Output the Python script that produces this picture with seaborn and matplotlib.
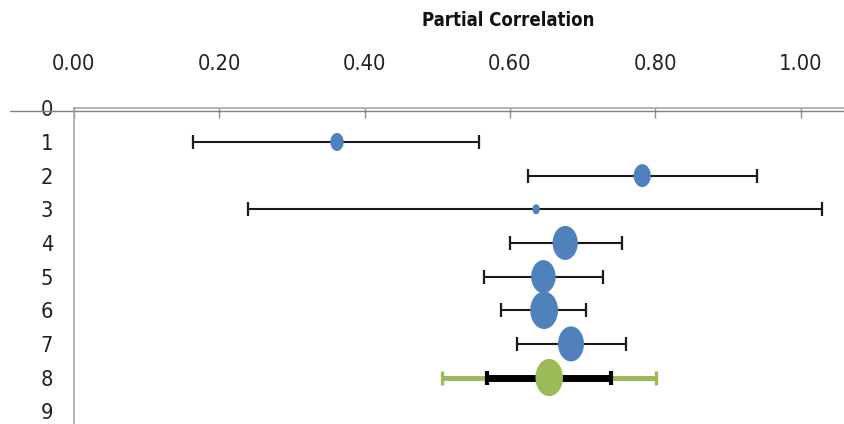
import numpy as np
import pandas as pd
import matplotlib
matplotlib.use("Agg")
import matplotlib.pyplot as plt
from matplotlib import font_manager
from matplotlib.path import Path
import seaborn as sns

# forest plot data
rows = [1, 2, 3, 4, 5, 6, 7, 8]
r = [0.362, 0.782, 0.636, 0.676, 0.646, 0.647, 0.684, 0.654]
ci_lo = [0.164, 0.625, 0.240, 0.600, 0.564, 0.588, 0.609, 0.569]
ci_hi = [0.558, 0.940, 1.030, 0.754, 0.728, 0.705, 0.759, 0.739]
weight = [18, 23, 10, 34, 33, 37.5, 35, 37.2]
kind = ["study"] * 7 + ["pooled"]
# prediction interval for the pooled estimate
pi_lo = [0.507]
pi_hi = [0.801]

xticks = [0.0, 0.2, 0.4, 0.6, 0.8, 1.0]
yticks = list(range(10))

df = pd.DataFrame({"row": rows, "r": r, "lo": ci_lo, "hi": ci_hi,
                   "weight": weight, "kind": kind})

sns.set_theme(style="white")

# look for a narrow font (reference uses a squeezed Calibri)
fams = set(f.name for f in font_manager.fontManager.ttflist)
cond = [f for f in font_manager.fontManager.ttflist
        if str(f.stretch) in ("condensed", "semi-condensed", "extra-condensed")]
if "Liberation Sans Narrow" in fams:
    plt.rcParams["font.family"] = ["Liberation Sans Narrow", "DejaVu Sans"]
    scale = 1.0
elif cond:
    plt.rcParams["font.family"] = [cond[0].name, "DejaVu Sans"]
    plt.rcParams["font.stretch"] = "condensed"
    scale = 0.92
else:
    plt.rcParams["font.family"] = ["DejaVu Sans"]
    scale = 0.78

fig = plt.figure(figsize=(8.45, 4.24), dpi=100)
ax = fig.add_axes([73.9 / 845, 0, 1 - 73.9 / 845, 1 - 108.3 / 424])

# ellipse marker (the original chart was squeezed sideways)
t = np.linspace(0, 2 * np.pi, 60)
ellipse = Path(np.column_stack([0.74 * np.cos(t), np.sin(t)]), closed=True)

study = df[df.kind == "study"]
pooled = df[df.kind == "pooled"]

# error bars for studies
ax.errorbar(study.r, study.row,
            xerr=[study.r - study.lo, study.hi - study.r],
            fmt="none", ecolor="#1a1a1a", elinewidth=1.5, capsize=4.7,
            capthick=1.6, zorder=2)
# prediction interval (green) and confidence interval (black) for pooled
ax.errorbar(pooled.r, pooled.row,
            xerr=[np.array(pooled.r) - pi_lo, np.array(pi_hi) - pooled.r],
            fmt="none", ecolor="#9BBB59", elinewidth=3.6, capsize=4.7,
            capthick=2.4, zorder=2)
ax.errorbar(pooled.r, pooled.row,
            xerr=[pooled.r - pooled.lo, pooled.hi - pooled.r],
            fmt="none", ecolor="black", elinewidth=5, capsize=4.7,
            capthick=3, zorder=3)

sizes = {w: (w * 0.72) ** 2 for w in weight}
sns.scatterplot(data=df, x="r", y="row", size="weight", sizes=sizes,
                hue="kind", palette={"study": "#4F81BD", "pooled": "#9BBB59"},
                marker=ellipse, linewidth=0, legend=False, ax=ax, zorder=4)

ax.set_xlim(0, 1.061)
ax.set_ylim(9.38, 0)
ax.set_xticks(xticks)
ax.set_xticklabels([f"{v:.2f}" for v in xticks])
ax.set_yticks(yticks)
ax.set_yticklabels([str(v) for v in yticks])
ax.xaxis.tick_top()
ax.tick_params(axis="x", direction="in", length=7, width=1, color="#8c8c8c",
               pad=25, labelsize=17 * scale, labelcolor="#222222")
ax.tick_params(axis="y", length=0, pad=15,
               labelsize=17 * scale, labelcolor="#222222")
ax.set_xlabel("")
ax.set_ylabel("")

for side in ["right", "bottom"]:
    ax.spines[side].set_visible(False)
for side in ["top", "left"]:
    ax.spines[side].set_color("#a6a6a6")
    ax.spines[side].set_linewidth(1.2)

# horizontal axis line through the "0" label
ax.plot([-0.088, 1.08], [0.08, 0.08], color="#808080", lw=1,
        clip_on=False, zorder=1)

fig.text(508 / 845, 1 - 20 / 424, "Partial Correlation", ha="center",
         va="center", fontsize=14.5 * scale, fontweight="bold",
         color="#111111")

fig.savefig("out.png", dpi=100)
